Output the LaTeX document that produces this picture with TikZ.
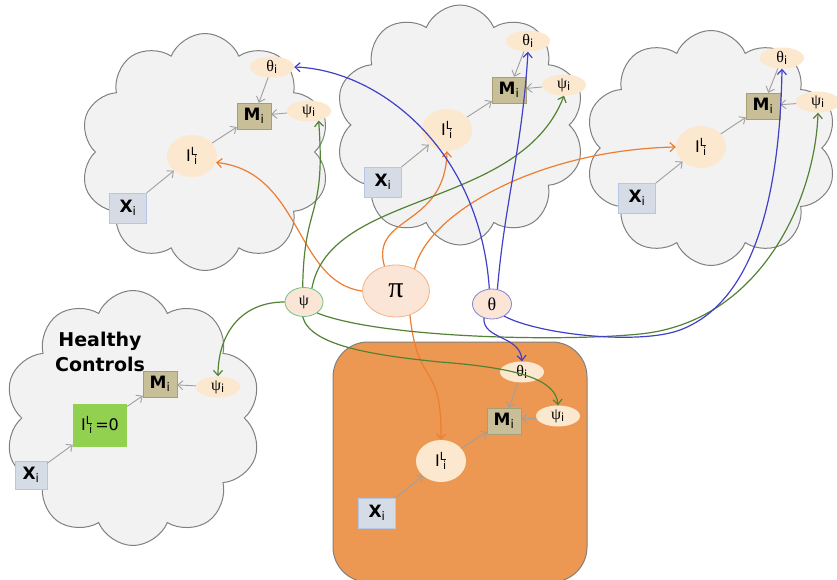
\documentclass[tikz,border=0pt]{standalone}
\usepackage{fontspec}
\setmainfont{DejaVu Sans}
\newfontfamily\grkfont{Liberation Serif}
\usepackage{tikz}
\usetikzlibrary{arrows.meta,shapes.geometric,shapes.symbols}

\definecolor{cloudfill}{RGB}{242,242,242}
\definecolor{cloudline}{RGB}{128,128,128}
\definecolor{peach}{RGB}{252,232,206}
\definecolor{obsfill}{RGB}{200,190,152}
\definecolor{obsline}{RGB}{168,158,118}
\definecolor{inpfill}{RGB}{214,220,229}
\definecolor{inpline}{RGB}{180,199,231}
\definecolor{hcgreen}{RGB}{146,208,80}
\definecolor{boxorange}{RGB}{237,152,82}
\definecolor{hubfill}{RGB}{251,229,214}
\definecolor{psiline}{RGB}{110,195,130}
\definecolor{thline}{RGB}{130,130,210}
\definecolor{piline}{RGB}{244,177,131}
\definecolor{linkorange}{RGB}{237,125,49}
\definecolor{linkgreen}{RGB}{84,130,53}
\definecolor{linkblue}{RGB}{64,64,200}

\newcommand{\Mlab}{\textbf{M}\textsubscript{i}}
\newcommand{\Xlab}{\textbf{X}\textsubscript{i}}
\newcommand{\Ilab}{I\textsuperscript{L}\kern-0.22em\textsubscript{i}}
\newcommand{\thlab}{{\grkfont θ}\textsubscript{i}}
\newcommand{\pslab}{{\grkfont ψ}\textsubscript{i}}

\begin{document}
\begin{tikzpicture}[
  x=1pt,y=-1pt,
  >={Straight Barb[length=5pt,width=9pt]},
  cloudbg/.style={cloud, cloud puffs=10, cloud puff arc=135, cloud ignores aspect, draw=cloudline, fill=cloudfill, line width=1pt},
  lat/.style={ellipse, fill=peach, inner sep=0pt, minimum width=50, minimum height=42, font=\fontsize{16}{16}\selectfont},
  par/.style={ellipse, fill=peach, inner sep=0pt, minimum width=44, minimum height=21, font=\fontsize{16}{16}\selectfont},
  obs/.style={draw=obsline, fill=obsfill, inner sep=0pt, minimum width=34, minimum height=26, font=\fontsize{17}{17}\selectfont},
  inp/.style={draw=inpline, fill=inpfill, inner sep=0pt, minimum width=37, minimum height=30, font=\fontsize{17}{17}\selectfont},
  hub/.style={ellipse, fill=hubfill, inner sep=0pt, line width=0.8pt},
  wire/.style={->, gray!75, line width=0.9pt},
  olink/.style={->, linkorange, line width=1.2pt},
  glink/.style={->, linkgreen, line width=1.2pt},
  blink/.style={->, linkblue, line width=1.2pt}
]
\useasboundingbox (0,0) rectangle (837,580);

% one cloud per patient group, the box holds the new subject
\node[cloudbg, minimum width=250, minimum height=237] (cl1) at (205,152) {};
\node[cloudbg, minimum width=250, minimum height=240] (cl2) at (460,125) {};
\node[cloudbg, minimum width=252, minimum height=235] (cl3) at (711,148) {};
\node[cloudbg, minimum width=257, minimum height=255] (cl4) at (133,418) {};
\node[draw=cloudline, fill=boxorange, line width=1pt, rounded corners=35, minimum width=254, minimum height=240] (grp) at (460,462) {};

% group 1
\node[par] (th1) at (272,67) {\thlab};
\node[obs] (m1) at (254,116) {\Mlab};
\node[par] (ps1) at (309,111) {\pslab};
\node[lat] (il1) at (192,156) {\Ilab};
\node[inp] (x1) at (128,208) {\Xlab};

% group 2
\node[par] (th2) at (528,41) {\thlab};
\node[obs] (m2) at (509,90) {\Mlab};
\node[par] (ps2) at (564,85) {\pslab};
\node[lat] (il2) at (447,130) {\Ilab};
\node[inp] (x2) at (383,182) {\Xlab};

% group 3
\node[par] (th3) at (782,58) {\thlab};
\node[obs] (m3) at (763,106) {\Mlab};
\node[par] (ps3) at (818,102) {\pslab};
\node[lat] (il3) at (701,147) {\Ilab};
\node[inp] (x3) at (637,198) {\Xlab};

% healthy controls
\node[font=\bfseries\fontsize{19}{25}\selectfont, align=center] (hc) at (100,352) {Healthy\\Controls};
\node[obs] (m4) at (160,384) {\Mlab};
\node[par] (ps4) at (218,387) {\pslab};
\node[fill=hcgreen, inner sep=0pt, minimum width=54, minimum height=43, font=\fontsize{16}{16}\selectfont] (il4) at (100,425) {\Ilab\,=0};
\node[inp, minimum width=32, minimum height=28] (x4) at (31,475) {\Xlab};

% new subject
\node[par] (th5) at (522,372) {\thlab};
\node[obs] (m5) at (504,421) {\Mlab};
\node[par] (ps5) at (558,416) {\pslab};
\node[lat] (il5) at (441,461) {\Ilab};
\node[inp] (x5) at (377,513) {\Xlab};

% shared parameters
\node[hub, draw=psiline, minimum width=38, minimum height=29, font=\grkfont\fontsize{16}{16}\selectfont] (psi) at (304,302) {ψ};
\node[hub, draw=piline, minimum width=67, minimum height=52, font=\grkfont\fontsize{30}{30}\selectfont] (pi) at (396,291) {π};
\node[hub, draw=thline, minimum width=39, minimum height=30, font=\grkfont\fontsize{18}{18}\selectfont] (th) at (492,304) {θ};

% within-subject model
\draw[wire] (x1) -- (il1);
\draw[wire] (il1) -- (m1);
\draw[wire] (th1) -- (m1);
\draw[wire] (ps1) -- (m1);
\draw[wire] (x2) -- (il2);
\draw[wire] (il2) -- (m2);
\draw[wire] (th2) -- (m2);
\draw[wire] (ps2) -- (m2);
\draw[wire] (x3) -- (il3);
\draw[wire] (il3) -- (m3);
\draw[wire] (th3) -- (m3);
\draw[wire] (ps3) -- (m3);
\draw[wire] (x4) -- (il4);
\draw[wire] (il4) -- (m4);
\draw[wire] (ps4) -- (m4);
\draw[wire] (x5) -- (il5);
\draw[wire] (il5) -- (m5);
\draw[wire] (th5) -- (m5);
\draw[wire] (ps5) -- (m5);

% pi -> latent class
\draw[olink] (pi.west) .. controls (295,282) and (302,172) .. (il1.-15);
\draw[olink] (pi.115) .. controls (370,215) and (445,228) .. (il2.south);
\draw[olink] (pi.50) .. controls (428,212) and (540,150) .. (il3.west);
\draw[olink] (pi.-60) .. controls (418,390) and (442,360) .. (il5.north);

% psi -> nuisance
\draw[glink] (psi.95) .. controls (304,200) and (326,220) .. (ps1.-45);
\draw[glink] (psi.60) .. controls (330,190) and (520,210) .. (ps2.south);
\draw[glink] (psi.west) .. controls (240,302) and (218,335) .. (ps4.north);
\draw[glink] (psi.-40) .. controls (380,338) and (560,342) .. (640,334) .. controls (760,322) and (815,200) .. (ps3.south);
\draw[glink] (psi.-95) .. controls (310,345) and (370,355) .. (440,362) .. controls (520,368) and (556,380) .. (ps5.north);

% theta -> group effects
\draw[blink] (th.100) .. controls (480,150) and (380,70) .. (th1.east);
\draw[blink] (th.70) .. controls (505,200) and (522,150) .. (th2.south);
\draw[blink] (th.-45) .. controls (540,335) and (640,345) .. (680,330) .. controls (760,300) and (780,180) .. (th3.south);
\draw[blink] (th.-120) .. controls (483,340) and (520,335) .. (th5.north);
\end{tikzpicture}
\end{document}
